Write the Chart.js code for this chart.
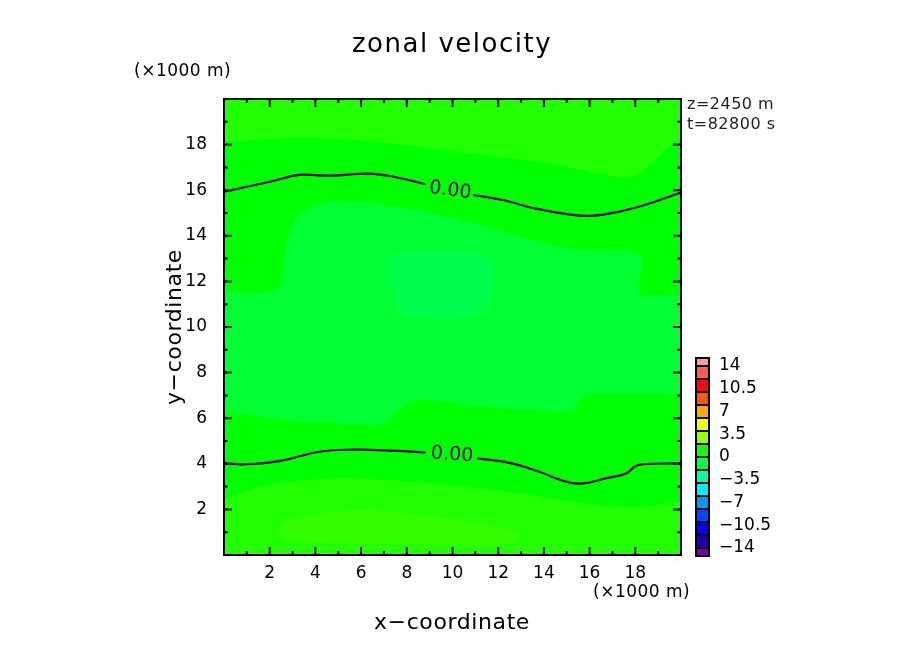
<!DOCTYPE html>
<html>
<head>
<meta charset="utf-8">
<script src="https://cdn.jsdelivr.net/npm/chart.js@4.4.1/dist/chart.umd.min.js"></script>
<style>
body { margin: 0; background: #fff; }
#wrap { width: 904px; height: 654px; }
</style>
</head>
<body>
<div id="wrap"><canvas id="chart"></canvas></div>
<script>
// axis ticks (x1000 m)
const tickLabels = [2, 4, 6, 8, 10, 12, 14, 16, 18];
const tickMarks = [1, 2, 3, 4, 5, 6, 7, 8, 9, 10, 11, 12, 13, 14, 15, 16, 17, 18, 19];

// shaded region boundaries [x, y]
const topBandEdge = [[0, 18.13], [1.5, 18.2], [3.2, 18.3], [5.5, 18.2], [8.6, 17.9], [12.9, 17.35], [14.4, 17.15], [16.6, 16.7], [17.8, 16.6], [18.6, 17.1], [19.4, 17.85], [20, 18.27]];
const bottomBandEdge = [[0, 2.49], [1.28, 2.92], [2.74, 3.22], [4.93, 3.36], [7.12, 3.29], [10.04, 3.07], [12.95, 2.71], [15.87, 2.27], [18.05, 2.12], [20, 2.34]];
const centralTop = [[0, 11.55], [2.0, 11.55], [2.45, 11.84], [2.6, 12.86], [2.74, 13.74], [3.18, 14.77], [4.06, 15.35], [5.37, 15.53], [7.12, 15.35], [10.04, 14.77], [12.22, 14.18], [14.41, 13.6], [15.87, 13.38], [17.91, 13.3], [18.32, 12.94], [18.13, 11.84], [18.28, 11.4], [20, 11.4]];
const centralBottom = [[20, 7.09], [15.87, 7.02], [15.51, 6.73], [15.29, 6.36], [14.41, 6.29], [11.5, 6.51], [8.58, 6.8], [7.7, 6.43], [6.97, 5.78], [5.66, 5.78], [2.74, 5.92], [1.28, 6.14], [0, 6.29]];
const innerSpot = [[7.26, 12.86], [7.41, 13.16], [8.58, 13.3], [10.91, 13.23], [11.64, 12.86], [11.79, 11.99], [11.5, 11.11], [10.77, 10.53], [9.31, 10.38], [7.7, 10.67], [7.41, 11.4], [7.34, 12.28], [7.26, 12.86]];
const bottomSpot = [[2.3, 1.02], [2.74, 1.46], [4.2, 1.83], [6.35, 1.97], [8.58, 1.75], [11.5, 1.32], [12.95, 0.88], [12.66, 0.51], [10.04, 0.44], [5.66, 0.51], [2.74, 0.66], [2.3, 1.02]];

// zero contours (null = gap for the label)
const zeroTop = [[0, 15.94], [2.0, 16.37], [3.3, 16.67], [4.6, 16.64], [6.35, 16.73], [7.37, 16.6], [8.83, 16.26], null, [10.9, 15.79], [12.2, 15.57], [13.6, 15.2], [15.1, 14.94], [16.1, 14.88], [17.3, 15.06], [18.4, 15.35], [20, 15.9]];
const zeroBottom = [[0, 4.02], [0.96, 3.98], [2.41, 4.12], [4.17, 4.53], [5.63, 4.62], [7.1, 4.59], [8.83, 4.5], null, [11.08, 4.24], [12.6, 4.02], [13.8, 3.65], [14.96, 3.22], [15.7, 3.14], [16.7, 3.36], [17.6, 3.58], [17.96, 3.87], [18.3, 3.98], [20, 4.02]];
const contourLabels = [["0.00", 9.9, 15.98, 8], ["0.00", 9.98, 4.39, 4]];

// colour bar
const cbLevels = [-14, -12, -10, -8, -6, -4, -2, 0, 2, 4, 6, 8, 10, 12, 14];
const cbColors = ["#1a00aa", "#0000ff", "#0048ff", "#0099ff", "#00eeff", "#00ff99", "#00ff44", "#11ff00", "#99ff00", "#eeff00", "#ffaa00", "#ff5500", "#ff0808", "#ff5a5a"];
const cbLabels = [-14, -10.5, -7, -3.5, 0, 3.5, 7, 10.5, 14];

const FONT = "'DejaVu Sans', sans-serif";

function pts(arr) {
  return arr.map(p => p ? { x: p[0], y: p[1] } : { x: null, y: null });
}

// closed polygon between two edges running left to right, padded past the frame
function band(upper, lower) {
  const u0 = upper[0], u1 = upper[upper.length - 1];
  const l0 = lower[0], l1 = lower[lower.length - 1];
  return [[-1, u0[1]], ...upper, [21, u1[1]], [21, l1[1]], ...lower.slice().reverse(), [-1, l0[1]]];
}

function region(data, color, tension) {
  return {
    data: pts(data), showLine: true, fill: "shape", backgroundColor: color,
    borderWidth: 0, borderColor: "rgba(0,0,0,0)", pointRadius: 0, tension: tension, clip: 0
  };
}

function contour(data) {
  return {
    data: pts(data), showLine: true, fill: false, borderColor: "#000",
    borderWidth: 2.2, pointRadius: 0, tension: 0.4, spanGaps: false
  };
}

const centralShape = [[-1, centralTop[0][1]], ...centralTop, [21, 11.4], [21, 7.09], ...centralBottom, [-1, 6.29]];
const frameShape = [[-1, -1], [21, -1], [21, 21], [-1, 21]];

const decor = {
  id: "decor",
  afterDraw(chart) {
    const ctx = chart.ctx;
    const xs = chart.scales.x, ys = chart.scales.y;
    const a = chart.chartArea;
    ctx.save();

    // contour labels
    ctx.fillStyle = "#000";
    ctx.font = "19px " + FONT;
    ctx.textAlign = "center";
    ctx.textBaseline = "middle";
    contourLabels.forEach(([t, x, y, ang]) => {
      ctx.save();
      ctx.translate(xs.getPixelForValue(x), ys.getPixelForValue(y));
      ctx.rotate(ang * Math.PI / 180);
      ctx.fillText(t, 0, 0);
      ctx.restore();
    });

    // inward tick marks and frame
    ctx.strokeStyle = "#000";
    ctx.lineWidth = 2;
    ctx.beginPath();
    tickMarks.forEach(v => {
      const len = v % 2 === 0 ? 8 : 4;
      const px = xs.getPixelForValue(v), py = ys.getPixelForValue(v);
      ctx.moveTo(px, a.bottom); ctx.lineTo(px, a.bottom - len);
      ctx.moveTo(px, a.top); ctx.lineTo(px, a.top + len);
      ctx.moveTo(a.left, py); ctx.lineTo(a.left + len, py);
      ctx.moveTo(a.right, py); ctx.lineTo(a.right - len, py);
    });
    ctx.stroke();
    ctx.strokeRect(a.left, a.top, a.right - a.left, a.bottom - a.top);

    // colour bar
    const cbY = v => 457 - v * 6.5;
    const bx = 695, bw = 15;
    ctx.fillStyle = "#000";
    ctx.fillRect(bx, cbY(14) - 9, bw, cbY(-14) - cbY(14) + 18);
    for (let i = 0; i < cbColors.length; i++) {
      const yt = cbY(cbLevels[i + 1]), yb = cbY(cbLevels[i]);
      ctx.fillStyle = cbColors[i];
      ctx.fillRect(bx + 2, yt + 1, bw - 4, yb - yt - 2);
    }
    ctx.fillStyle = "#ff9a9a";
    ctx.fillRect(bx + 2, cbY(14) - 7, bw - 4, 6);
    ctx.fillStyle = "#7a00aa";
    ctx.fillRect(bx + 2, cbY(-14) + 1, bw - 4, 6);

    ctx.fillStyle = "#000";
    ctx.font = "17px " + FONT;
    ctx.textAlign = "left";
    cbLabels.forEach(v => {
      const s = String(Math.abs(v));
      ctx.fillText((v < 0 ? "\u2212" : "") + s, 719, cbY(v));
    });

    // titles and annotations
    ctx.textAlign = "center";
    ctx.font = "26px " + FONT;
    ctx.letterSpacing = "1.5px";
    ctx.fillText("zonal velocity", 452, 45);
    ctx.font = "22px " + FONT;
    ctx.letterSpacing = "0.6px";
    ctx.fillText("x\u2212coordinate", 452, 623);
    ctx.save();
    ctx.translate(175, 327);
    ctx.rotate(-Math.PI / 2);
    ctx.fillText("y\u2212coordinate", 0, 0);
    ctx.restore();

    ctx.textAlign = "left";
    ctx.font = "17px " + FONT;
    ctx.letterSpacing = "0.5px";
    ctx.fillText("(\u00d71000 m)", 134, 72);
    ctx.fillText("(\u00d71000 m)", 593, 593);
    ctx.font = "16px " + FONT;
    ctx.fillStyle = "#222";
    ctx.fillText("z=2450 m", 687, 105);
    ctx.fillText("t=82800 s", 687, 125);
    ctx.restore();
  }
};

new Chart(document.getElementById("chart"), {
  type: "scatter",
  data: {
    datasets: [
      contour(zeroTop),
      contour(zeroBottom),
      region(innerSpot, "#00ff4d", 0.4),
      region(bottomSpot, "#33ff00", 0.4),
      region(centralShape, "#00ff33", 0.4),
      region(band(topBandEdge, bottomBandEdge), "#00ff00", 0.4),
      region(frameShape, "#22ff00", 0)
    ]
  },
  options: {
    responsive: true,
    maintainAspectRatio: false,
    animation: false,
    elements: { line: { capBezierPoints: false } },
    layout: { padding: { left: 164, right: 223, top: 99, bottom: 69 } },
    plugins: { legend: { display: false }, tooltip: { enabled: false } },
    scales: {
      x: {
        type: "linear", min: 0, max: 20,
        afterBuildTicks: s => { s.ticks = tickLabels.map(v => ({ value: v })); },
        afterFit: s => { s.height = 30; },
        grid: { display: false }, border: { display: false },
        ticks: { padding: 0, color: "#000", font: { family: FONT, size: 17 } }
      },
      y: {
        type: "linear", min: 0, max: 20,
        afterBuildTicks: s => { s.ticks = tickLabels.map(v => ({ value: v })); },
        afterFit: s => { s.width = 60; },
        grid: { display: false }, border: { display: false },
        ticks: { padding: 9, color: "#000", font: { family: FONT, size: 17 } }
      }
    }
  },
  plugins: [decor]
});
</script>
</body>
</html>
